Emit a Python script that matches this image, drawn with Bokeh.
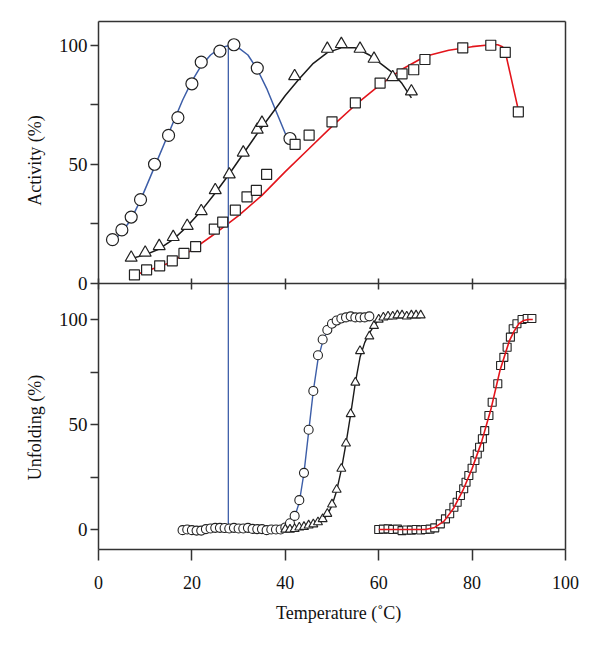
import numpy as np
from bokeh.plotting import figure
from bokeh.models import Range1d, LinearAxis, FixedTicker, Label
from bokeh.embed import file_html
from bokeh.resources import INLINE

# ---------------- data: activity (top panel) ----------------
act_circle_t = [3, 5, 7, 9, 12, 15, 17, 20, 22, 26, 29, 34, 41]
act_circle_v = [18.4, 22.5, 27.9, 35.2, 50.1, 62.2, 69.7, 83.9, 93.0, 97.6, 100.3, 90.5, 60.9]

act_tri_t = [7, 10, 13, 16, 19, 22, 25, 28, 31, 34, 35, 42, 49, 52, 56, 59, 63, 67]
act_tri_v = [10.8, 12.9, 15.7, 19.5, 24.2, 30.4, 39.2, 45.8, 55.0, 64.6, 67.5, 87.1,
             98.6, 100.6, 98.6, 94.4, 86.7, 80.7]

act_sq_t = [7.7, 10.3, 13.1, 15.8, 18.3, 20.8, 24.8, 26.6, 29.3, 31.8, 33.8, 36.0,
            42.1, 45.1, 50.0, 55.0, 60.3, 65.0, 67.5, 69.9, 78.0, 84.0, 87.1, 89.9]
act_sq_v = [3.6, 5.7, 7.4, 9.5, 12.6, 15.5, 22.8, 25.8, 30.8, 36.4, 39.1, 45.8,
            58.4, 62.3, 67.9, 75.9, 84.2, 88.1, 89.8, 94.1, 99.0, 100.1, 97.1, 72.1]

fit_act_blue_t = [3, 5, 7, 9, 12, 15, 18, 20, 22, 24, 26, 28, 30, 32, 34, 36, 38, 40, 41]
fit_act_blue_v = [17.5, 21.5, 27, 35, 49, 63, 77, 85, 91.5, 96, 99, 100, 99, 96, 90,
                  82, 72.5, 63, 59]

fit_act_black_t = [7, 10, 13, 16, 19, 22, 25, 28, 31, 34, 37, 40, 43, 46, 49, 52, 55,
                   58, 61, 63, 65, 67]
fit_act_black_v = [10.5, 12, 14.5, 18.5, 24, 30.5, 38, 46, 54.5, 63, 71, 79, 86, 92.5,
                   97, 99, 99, 96, 91.5, 88.5, 84, 78]

fit_act_red_t = [7.7, 10, 15, 20, 25, 30, 35, 40, 45, 50, 55, 60, 65, 70, 75, 80, 84,
                 85.5, 86.5, 87.2, 90]
fit_act_red_v = [3.5, 5, 8.5, 14, 21, 28.5, 37, 47, 56.5, 66, 75, 83, 90, 95.5, 98,
                 99.5, 100.3, 100.3, 99.5, 96.5, 72]

t_opt = 27.8

# ---------------- data: unfolding (bottom panel) ----------------
unf_circle_t = list(range(18, 59))
unf_circle_v = [-0.3, 0, -0.3, -0.5, -0.5, 0.2, 0.5, 0.8, 0.8, 0.7, 0.5, 0.8, 0.5, 0.5,
                0.8, 0.3, 0.2, 0.2, -0.3, 0, 0, 0, 1, 3, 6.5, 14, 27, 47.5, 66, 83,
                90.5, 95, 98, 99.5, 100.5, 101, 101.5, 101, 101, 101, 101.5]

unf_tri_t = [40, 41, 42, 43, 44, 45, 46, 47, 48, 49, 50, 51, 52, 53, 54, 55, 56, 58, 59,
             60, 61, 62, 63, 64, 65, 66, 67, 68, 69]
unf_tri_v = [0, 0, 0.3, 1, 1.3, 2, 2.5, 3.5, 5, 7.5, 12, 19, 29, 41, 55, 70, 85, 92, 97,
             100, 101, 101.5, 101.5, 102, 102, 101.5, 102, 102, 102]

unf_sq_t = [60, 61, 62, 63, 64, 65, 66, 67, 68, 69, 70, 71, 72, 73.2, 74.3, 75.2, 76.1,
            76.8, 77.5, 78.2, 78.7, 79.3, 80.0, 80.6, 81.1, 81.6, 82.2, 82.7, 83.6, 84.3,
            85.5, 86.1, 86.8, 87.5, 88.2, 88.8, 89.6, 90.7, 91.8, 92.8]
unf_sq_v = [0, 0.2, 0.3, 0, 0.2, -0.5, -0.2, -0.3, 0, -0.2, 0, 0.2, 0.8, 2.7, 5.1, 7.5,
            10.6, 13, 16.2, 19.4, 22.5, 25.7, 29.2, 32.9, 36, 39.2, 43.2, 47.1, 54.3,
            60.6, 69.4, 78.1, 82, 86.8, 91.6, 95.6, 98, 100, 100.5, 100.5]

fit_unf_blue_t = [18, 38, 40, 41, 42, 43, 44, 45, 46, 47, 48, 49, 50, 51, 52, 54, 56, 58]
fit_unf_blue_v = [0, 0.3, 1, 2.5, 6, 13, 27, 46.5, 66, 81, 89.5, 94.5, 97.5, 99, 100,
                  100.8, 101, 101]

fit_unf_black_t = [40, 44, 46, 47, 48, 49, 50, 51, 52, 53, 54, 55, 56, 57, 58, 59, 60,
                   62, 65, 69]
fit_unf_black_v = [0, 0.8, 2, 3, 4.5, 7, 11.5, 18.5, 28.5, 41, 55, 70, 82, 89, 93.5,
                   97, 100, 101, 101.5, 102]

fit_unf_red_t = [60, 70, 72, 74, 76, 78, 80, 82, 84, 86, 88, 89, 90, 91, 92, 93]
fit_unf_red_v = [0, 0, 1, 4, 10, 18.5, 29, 41.5, 57, 76, 90, 94.5, 98, 99.5, 100, 100]

x_ticks = [0, 20, 40, 60, 80, 100]
y_ticks = [0, 50, 100]
y_minor = [25, 75]

# ---------------- styles / layout ----------------
FONT = "Liberation Serif"
AX = "#333333"
BLUE = "#3d5ea8"
RED = "#e3141b"
BLACK = "#1a1a1a"

X_MIN, X_MAX = 0, 100          # temperature span of the box
ACT_TOP = 110.1                # top edge of the box (activity scale)
BOX_BOTTOM = -111.8            # bottom edge of the box (activity scale)
top_range = Range1d(-153.4, 118.9)   # activity scale over the whole canvas height
bot_range = Range1d(-56.64, 251.9)   # unfolding scale over the whole canvas height
x_range = Range1d(-20.985, 104.925)  # temperature scale over the whole canvas width


def bot_to_top(v):
    f = (v - bot_range.start) / (bot_range.end - bot_range.start)
    return top_range.start + f * (top_range.end - top_range.start)


def top_to_bot(v):
    f = (v - top_range.start) / (top_range.end - top_range.start)
    return bot_range.start + f * (bot_range.end - bot_range.start)


p = figure(width=588, height=648, output_backend="svg", toolbar_location=None,
           x_range=x_range, y_range=top_range,
           min_border_left=0, min_border_right=0, min_border_top=0,
           min_border_bottom=0, background_fill_color="white",
           border_fill_color="white")
p.extra_y_ranges = {"bot": bot_range}
p.xgrid.visible = False
p.ygrid.visible = False
p.outline_line_color = None


def style_axis(ax, font_size="17px"):
    ax.axis_line_color = AX
    ax.axis_line_width = 1.5
    ax.major_tick_line_color = AX
    ax.minor_tick_line_color = AX
    ax.major_tick_line_width = 1.5
    ax.minor_tick_line_width = 1.5
    ax.major_label_text_font = FONT
    ax.major_label_text_font_size = font_size
    ax.major_label_text_color = "#111111"


# bottom temperature axis (box bottom)
xa = p.xaxis[0]
style_axis(xa, font_size="18px")
xa.fixed_location = BOX_BOTTOM
xa.ticker = FixedTicker(ticks=x_ticks)
xa.bounds = (X_MIN, X_MAX)
xa.major_tick_out = 11
xa.major_tick_in = 0
xa.major_label_standoff = 15

# left axis at T = 0: ticks of both panels
bot_major = [bot_to_top(v) for v in y_ticks]
bot_minor = [bot_to_top(v) for v in y_minor]
ya = p.yaxis[0]
style_axis(ya, font_size="19px")
ya.fixed_location = X_MIN
ya.bounds = (BOX_BOTTOM, ACT_TOP)
ya.ticker = FixedTicker(ticks=y_ticks + bot_major, minor_ticks=y_minor + bot_minor)
ya.major_label_overrides = {pos: str(v) for pos, v in zip(bot_major, y_ticks)}
ya.major_tick_out = 8
ya.major_tick_in = 0
ya.minor_tick_out = 8
ya.minor_tick_in = 0
ya.major_label_standoff = 3

# divider between the two panels, ticks crossing
xd = LinearAxis(fixed_location=0, bounds=(X_MIN, X_MAX), ticker=FixedTicker(ticks=x_ticks))
style_axis(xd, font_size="0px")
xd.major_label_text_alpha = 0
xd.major_tick_in = 5
xd.major_tick_out = 6
xd.major_label_standoff = 0
p.add_layout(xd, "below")

# top and right edges of the box
xt = LinearAxis(fixed_location=ACT_TOP, bounds=(X_MIN, X_MAX), ticker=FixedTicker(ticks=[]))
style_axis(xt, font_size="0px")
xt.major_label_text_alpha = 0
p.add_layout(xt, "above")
yr = LinearAxis(fixed_location=X_MAX, bounds=(BOX_BOTTOM, ACT_TOP),
                ticker=FixedTicker(ticks=[]))
style_axis(yr, font_size="0px")
yr.major_label_text_alpha = 0
p.add_layout(yr, "right")

# --- top panel ---
p.line(fit_act_blue_t, fit_act_blue_v, line_color=BLUE, line_width=1.5)
p.line(fit_act_black_t, fit_act_black_v, line_color=BLACK, line_width=1.5)
p.line(fit_act_red_t, fit_act_red_v, line_color=RED, line_width=1.6)

# optimum temperature: from activity peak down to zero unfolding
p.segment(x0=[t_opt], y0=[0], x1=[t_opt], y1=[top_to_bot(100)],
          line_color=BLUE, line_width=1.3, y_range_name="bot")

mk = dict(line_color="#222222", fill_color="white", line_width=1.2)
p.scatter(act_circle_t, act_circle_v, marker="circle", size=12, **mk)
p.scatter(act_tri_t, act_tri_v, marker="triangle", size=12, **mk)
p.scatter(act_sq_t, act_sq_v, marker="square", size=10, **mk)

# --- bottom panel ---
p.line(fit_unf_blue_t, fit_unf_blue_v, line_color=BLUE, line_width=1.4, y_range_name="bot")
p.line(fit_unf_black_t, fit_unf_black_v, line_color=BLACK, line_width=1.4, y_range_name="bot")

mk2 = dict(line_color="#222222", fill_color="white", line_width=1.1, y_range_name="bot")
p.scatter(unf_circle_t, unf_circle_v, marker="circle", size=9, **mk2)
p.scatter(unf_tri_t, unf_tri_v, marker="triangle", size=9, **mk2)
p.scatter(unf_sq_t, unf_sq_v, marker="square", size=8, **mk2)
p.line(fit_unf_red_t, fit_unf_red_v, line_color=RED, line_width=1.6, y_range_name="bot")

# axis titles
title_style = dict(text_font=FONT, text_font_size="18px", text_color="#111111",
                   text_align="center", text_baseline="middle")
p.add_layout(Label(x=-13.5, y=51.7, text="Activity (%)", angle=np.pi / 2, **title_style))
p.add_layout(Label(x=-13.5, y=48.6, y_range_name="bot", text="Unfolding (%)",
                   angle=np.pi / 2, **title_style))
p.add_layout(Label(x=51.4, y=-138.3, text="Temperature (\u02daC)", **title_style))

open("out.html", "w").write(file_html(p, INLINE))
